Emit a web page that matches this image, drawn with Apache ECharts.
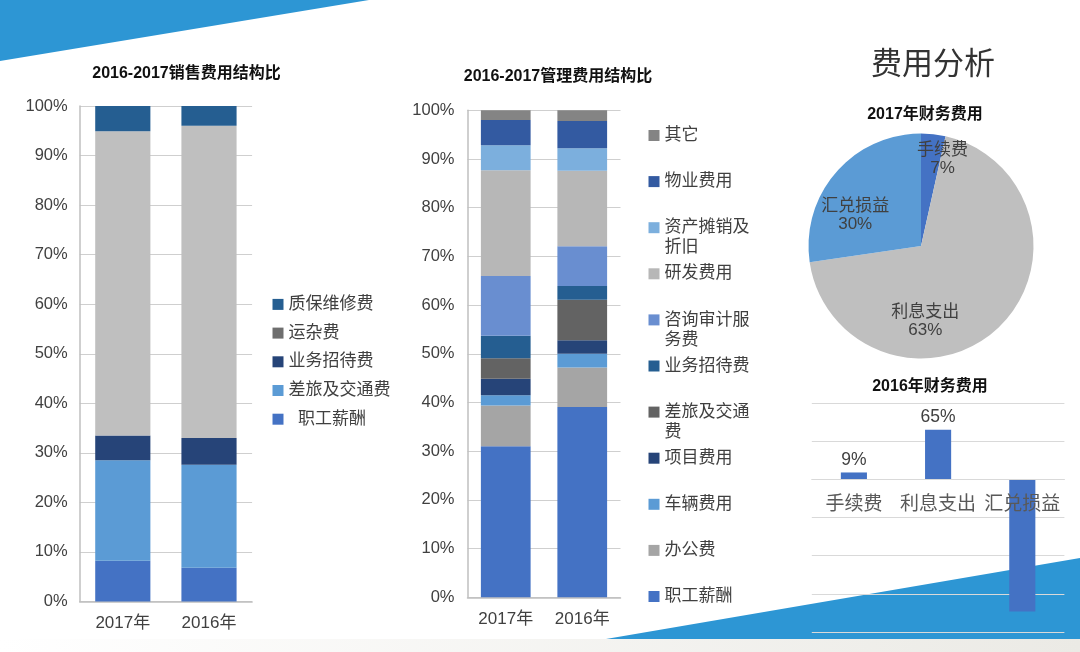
<!DOCTYPE html>
<html lang="zh-CN">
<head>
<meta charset="UTF-8">
<title>费用分析</title>
<script src="https://cdn.jsdelivr.net/npm/echarts@6/dist/echarts.min.js"></script>
<style>
    html, body { margin: 0; padding: 0; background: #fff; }
    #main { width: 1080px; height: 652px; }
</style>
</head>
<body>
<div id="main"></div>
<script>
    // 年份
    var years = ['2017年', '2016年'];

    // 销售费用结构比 (%)，自下而上
    var salesNames = ['职工薪酬', '差旅及交通费', '业务招待费', '运杂费', '质保维修费'];
    var sales2017 = [8.2, 20.3, 5.0, 61.4, 5.1];
    var sales2016 = [6.8, 20.8, 5.4, 63.0, 4.0];

    // 管理费用结构比 (%)，自下而上
    var adminNames = ['职工薪酬', '办公费', '车辆费用', '项目费用', '差旅及交通费', '业务招待费',
        '咨询审计服务费', '研发费用', '资产摊销及折旧', '物业费用', '其它'];
    var admin2017 = [31.0, 8.4, 2.1, 3.4, 4.2, 4.6, 12.3, 21.7, 5.1, 5.2, 2.0];
    var admin2016 = [39.1, 8.1, 2.8, 2.8, 8.3, 2.8, 8.2, 15.5, 4.6, 5.6, 2.2];

    // 2017年财务费用（饼图扇区大小与图上标注）
    var finNames = ['手续费', '利息支出', '汇兑损益'];
    var fin2017 = [3.5, 69.2, 27.3];
    var fin2017Labels = ['7%', '63%', '30%'];

    // 2016年财务费用 (%)
    var fin2016 = [9, 65, -173];
    var fin2016Min = -200, fin2016Max = 100;

    var salesColors = ['#4472c4', '#5b9bd5', '#264478', '#bfbfbf', '#255e91'];
    var salesLegendColors = ['#4472c4', '#5b9bd5', '#264478', '#6e6e6e', '#255e91'];
    var adminColors = ['#4472c4', '#a5a5a5', '#5b9bd5', '#264478', '#636363', '#255e91',
        '#698ed0', '#b7b7b7', '#7cafdd', '#335aa1', '#848484'];
    var pieColors = ['#4472c4', '#bfbfbf', '#5b9bd5'];
    var pieLabelShift = [[15, -28], [-36, 32], [-21, 8]];

    var font = '"Liberation Sans", "Noto Sans CJK SC", sans-serif';
    var textColor = '#404040';

    var myChart = echarts.init(document.getElementById('main'));

    var series = [];
    salesNames.forEach(function (name, i) {
        series.push({
            name: name, type: 'bar', stack: 'sales',
            xAxisIndex: 0, yAxisIndex: 0, barWidth: '64%',
            itemStyle: { color: salesColors[i] },
            data: [sales2017[i], sales2016[i]]
        });
    });
    adminNames.forEach(function (name, i) {
        series.push({
            name: name, type: 'bar', stack: 'admin',
            xAxisIndex: 1, yAxisIndex: 1, barWidth: '65%',
            itemStyle: { color: adminColors[i] },
            data: [admin2017[i], admin2016[i]]
        });
    });
    series.push({
        type: 'pie', center: [921, 246], radius: 112.5,
        startAngle: 90, clockwise: true,
        color: pieColors,
        label: {
            show: true, position: 'inside',
            color: textColor, fontSize: 17, lineHeight: 18,
            formatter: function (p) { return p.name + '\n' + fin2017Labels[p.dataIndex]; }
        },
        labelLine: { show: false },
        labelLayout: function (p) {
            return { dx: pieLabelShift[p.dataIndex][0], dy: pieLabelShift[p.dataIndex][1] };
        },
        emphasis: { disabled: true },
        data: finNames.map(function (n, i) { return { name: n, value: fin2017[i] }; })
    });
    series.push({
        type: 'bar', xAxisIndex: 2, yAxisIndex: 2, barWidth: '31%',
        itemStyle: { color: '#4472c4' },
        label: {
            show: true, position: 'top', distance: 4,
            color: textColor, fontSize: 17.5,
            formatter: function (p) { return p.value > 0 ? p.value + '%' : ''; }
        },
        data: fin2016
    });

    // 销售费用图例（单列）
    var salesLegend = {
        orient: 'vertical', left: 272.5, top: 294.4, padding: 0,
        icon: 'rect', itemWidth: 11, itemHeight: 11, itemGap: 8.7,
        textStyle: { fontSize: 17, color: textColor, lineHeight: 20 },
        formatter: function (n) { return n === '职工薪酬' ? '  ' + n : n; },
        data: salesNames.map(function (n, i) {
            return { name: n, itemStyle: { color: salesLegendColors[i] } };
        }).reverse()
    };

    // 管理费用图例：每项单独放，长名称折成两行
    var adminLegends = adminNames.slice().reverse().map(function (n, k) {
        var i = adminNames.length - 1 - k;
        var lines = n.length > 5 ? 3 : 1;
        var cy = 135.5 + k * 46.1;
        return {
            left: 648.5, top: cy - lines * 10, padding: 0,
            icon: 'rect', itemWidth: 11, itemHeight: 11,
            textStyle: { fontSize: 17, color: textColor, lineHeight: 20 },
            formatter: function (name) {
                return name.length > 5 ? '\n' + name.slice(0, 5) + '\n' + name.slice(5) : name;
            },
            data: [{ name: n, itemStyle: { color: adminColors[i] } }]
        };
    });

    var catAxis = function (grid, margin) {
        return {
            gridIndex: grid, type: 'category', data: years,
            axisTick: { show: false },
            axisLine: { lineStyle: { color: '#bfbfbf', width: 1.5 } },
            axisLabel: { color: textColor, fontSize: 17, margin: margin }
        };
    };
    var pctAxis = function (grid, margin) {
        return {
            gridIndex: grid, type: 'value', min: 0, max: 100, interval: 10,
            axisLine: { show: true, lineStyle: { color: '#bfbfbf', width: 1.5 } },
            axisTick: { show: false },
            splitLine: { lineStyle: { color: '#cfcfcf', width: 1.2 } },
            axisLabel: { formatter: '{value}%', color: textColor, fontSize: 16.5, margin: margin }
        };
    };

    // 财务费用柱图的网格，类目轴放在零线处
    var finGrid = { left: 811.8, top: 403, width: 252.6, height: 229 };
    var finZeroOffset = -finGrid.height * (0 - fin2016Min) / (fin2016Max - fin2016Min);

    var option = {
        animation: false,
        backgroundColor: '#ffffff',
        textStyle: { fontFamily: font },
        title: [
            { text: '2016-2017销售费用结构比', left: 186.5, top: 66, padding: 0, textAlign: 'center',
              textStyle: { fontSize: 16, fontWeight: 'bold', color: '#111' } },
            { text: '2016-2017管理费用结构比', left: 558, top: 69, padding: 0, textAlign: 'center',
              textStyle: { fontSize: 16, fontWeight: 'bold', color: '#111' } },
            { text: '2017年财务费用', left: 925, top: 107, padding: 0, textAlign: 'center',
              textStyle: { fontSize: 16, fontWeight: 'bold', color: '#111' } },
            { text: '2016年财务费用', left: 930, top: 379, padding: 0, textAlign: 'center',
              textStyle: { fontSize: 16, fontWeight: 'bold', color: '#111' } },
            { text: '费用分析', left: 871, top: 50, padding: 0,
              textStyle: { fontSize: 31, fontWeight: 'normal', color: '#333' } }
        ],
        legend: [salesLegend].concat(adminLegends),
        grid: [
            { left: 79.7, top: 106, width: 172.4, height: 495.5, containLabel: false, outerBoundsMode: 'none' },
            { left: 467.5, top: 110.3, width: 153, height: 487, containLabel: false, outerBoundsMode: 'none' },
            { left: finGrid.left, top: finGrid.top, width: finGrid.width, height: finGrid.height,
              containLabel: false, outerBoundsMode: 'none' }
        ],
        xAxis: [
            catAxis(0, 13),
            catAxis(1, 14),
            {
                gridIndex: 2, type: 'category', data: finNames, z: 5,
                position: 'bottom', offset: finZeroOffset,
                axisTick: { show: false },
                axisLine: { onZero: false, lineStyle: { color: '#d9d9d9' } },
                axisLabel: { interval: 0, hideOverlap: false, color: '#595959', fontSize: 19, margin: 16 }
            }
        ],
        yAxis: [
            pctAxis(0, 12),
            pctAxis(1, 13),
            {
                gridIndex: 2, type: 'value', min: fin2016Min, max: fin2016Max, interval: 50,
                axisLine: { show: false }, axisTick: { show: false },
                axisLabel: { show: false },
                splitLine: { lineStyle: { color: '#d9d9d9' } }
            }
        ],
        graphic: [
            { type: 'polygon', z: -1, silent: true,
              shape: { points: [[0, 0], [369, 0], [0, 61]] },
              style: { fill: '#2d96d4' } },
            { type: 'rect', z: -1, silent: true,
              shape: { x: 0, y: 639, width: 1080, height: 13 },
              style: { fill: new echarts.graphic.LinearGradient(0, 0, 1, 0, [
                  { offset: 0, color: '#ffffff' }, { offset: 1, color: '#ebeae5' }]) } },
            { type: 'polygon', z: -1, silent: true,
              shape: { points: [[606, 639], [1080, 558], [1080, 639]] },
              style: { fill: '#2d96d4' } }
        ],
        series: series
    };

    myChart.setOption(option);
</script>
</body>
</html>
